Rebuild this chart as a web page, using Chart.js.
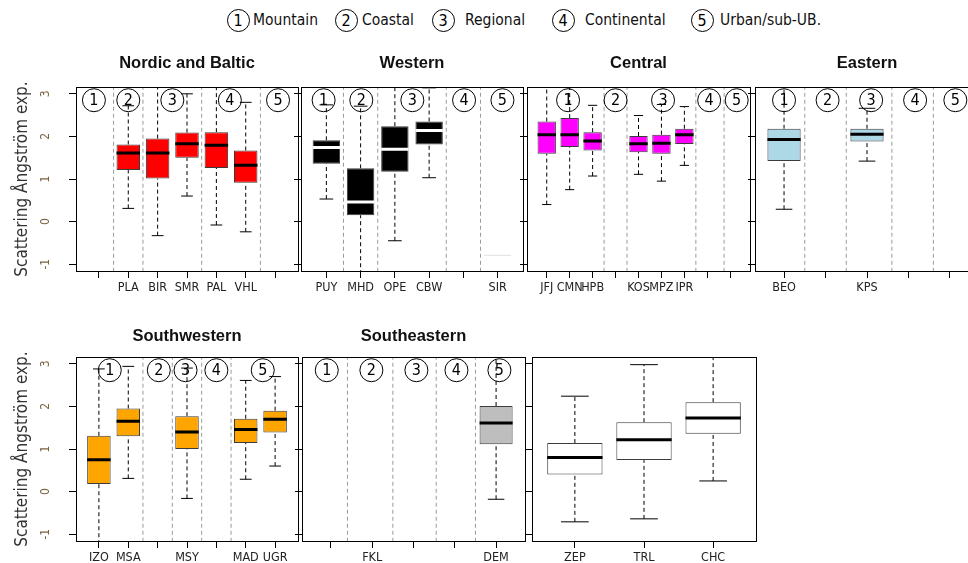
<!DOCTYPE html>
<html>
<head>
<meta charset="utf-8">
<title>Scattering Ångström exponent by region</title>
<script src="https://cdn.jsdelivr.net/npm/chart.js@4.4.1/dist/chart.umd.min.js"></script>
<style>
  body {
    margin: 0; width: 968px; height: 563px; overflow: hidden; background: #fff; position: relative;
    font-family: 'Liberation Sans Narrow', 'Arial Narrow', 'DejaVu Sans Condensed', sans-serif;
  }
  canvas { position: absolute; }
  .num {
    position: absolute; width: 21px; height: 21px; border: 1px solid #000; border-radius: 50%;
    font-size: 16px; line-height: 21px; text-align: center; color: #000;
  }
  .lab { position: absolute; font-size: 15.5px; line-height: 20px; color: #111; white-space: nowrap; }
</style>
</head>
<body>
<div id="legend"></div>
<script>
// station types shown as circled numbers
const typeNames = ['Mountain', 'Coastal', 'Regional', 'Continental', 'Urban/sub-UB.'];
const yTicks = [-1, 0, 1, 2, 3];

// every stats row: [lower whisker, Q1, median, Q3, upper whisker]; null = no box
const nordicSites = ['', 'PLA', 'BIR', 'SMR', 'PAL', 'VHL', ''];
const nordicStats = [null, [0.31, 1.21, 1.61, 1.81, 2.72], [-0.33, 1.01, 1.61, 1.95, 3.4],
  [0.60, 1.50, 1.83, 2.09, 3.0], [-0.08, 1.26, 1.79, 2.10, 3.4], [-0.24, 0.91, 1.32, 1.67, 2.80], null];
const nordicSplits = [1.5, 2.5, 4.5, 6.5];
const nordicTypeX = [0.83, 2.0, 3.5, 5.46, 7.1];

const westernSites = ['PUY', 'MHD', 'OPE', 'CBW', '', 'SIR'];
const westernStats = [[0.53, 1.36, 1.74, 1.91, 2.74], [-1.4, 0.15, 0.46, 1.25, 2.71],
  [-0.45, 1.17, 1.70, 2.24, 3.4], [1.03, 1.81, 2.14, 2.35, 3.14], null, [null, -0.81, null, -0.77, null]];
const westernSplits = [1.5, 2.5, 4.5, 5.5];
const westernTypeX = [0.92, 2.02, 3.51, 5.02, 6.14];

const centralSites = ['JFJ', 'CMN', 'HPB', '', 'KOS', 'MPZ', 'IPR', '', ''];
const centralStats = [[0.40, 1.59, 2.04, 2.35, 3.4], [0.75, 1.75, 2.04, 2.43, 3.4], [1.07, 1.67, 1.89, 2.10, 2.73],
  null, [1.11, 1.63, 1.83, 2.01, 2.49], [0.95, 1.59, 1.84, 2.04, 2.75], [1.32, 1.82, 2.04, 2.18, 2.70], null, null];
const centralSplits = [3.5, 4.5, 7.5, 8.73];
const centralTypeX = [1.93, 4.0, 6.07, 8.08, 9.28];

const easternSites = ['BEO', '', 'KPS', '', ''];
const easternStats = [[0.29, 1.42, 1.93, 2.18, 3.4], null, [1.42, 1.88, 2.05, 2.18, 2.66], null, null];
const easternSplits = [1.5, 2.5, 3.6, 4.6];
const easternTypeX = [1.0, 2.05, 3.1, 4.16, 5.13];

const swSites = ['IZO', 'MSA', '', 'MSY', '', 'MAD', 'UGR'];
const swStats = [[-1.4, 0.18, 0.75, 1.31, 2.88], [0.31, 1.30, 1.65, 1.95, 2.94], null,
  [-0.16, 1.00, 1.40, 1.77, 2.90], null, [0.29, 1.14, 1.46, 1.71, 2.61], [0.60, 1.39, 1.70, 1.90, 2.70]];
const swSplits = [2.5, 3.5, 4.5, 5.5];
const swTypeX = [1.37, 3.04, 3.95, 5.0, 6.58];

const seSites = ['', 'FKL', '', '', 'DEM'];
const seStats = [null, null, null, null, [-0.18, 1.11, 1.61, 2.01, 3.4]];
const seSplits = [1.4, 2.5, 3.55, 4.5];
const seTypeX = [0.9, 1.98, 3.07, 4.04, 5.08];

const refSites = ['ZEP', 'TRL', 'CHC'];
const refStats = [[-0.71, 0.40, 0.80, 1.14, 2.24], [-0.64, 0.74, 1.22, 1.63, 2.98], [0.25, 1.36, 1.73, 2.10, 3.4]];

const NARROW = "'Liberation Sans Narrow', 'Arial Narrow', 'DejaVu Sans Condensed', sans-serif";

// plot box of each panel on the page: [left, right, top, bottom]
const panels = [
  { title: 'Nordic and Baltic', sites: nordicSites, stats: nordicStats, splits: nordicSplits, typeX: nordicTypeX,
    fill: '#ff0000', median: '#000', box: [76, 298, 87, 271], axisLabels: true, titleGap: 24 },
  { title: 'Western', sites: westernSites, stats: westernStats, splits: westernSplits, typeX: westernTypeX,
    fill: '#000000', median: '#fff', siteFill: { 5: '#e6e6e6' }, box: [301, 523, 87, 271], titleGap: 24 },
  { title: 'Central', sites: centralSites, stats: centralStats, splits: centralSplits, typeX: centralTypeX,
    fill: '#ff00ff', median: '#000', box: [527, 750, 87, 271], titleGap: 24 },
  { title: 'Eastern', sites: easternSites, stats: easternStats, splits: easternSplits, typeX: easternTypeX,
    fill: '#add8e6', median: '#000', box: [755, 979, 87, 271], titleGap: 24 },
  { title: 'Southwestern', sites: swSites, stats: swStats, splits: swSplits, typeX: swTypeX,
    fill: '#ffa500', median: '#000', box: [76, 298, 357, 541], axisLabels: true, titleGap: 21 },
  { title: 'Southeastern', sites: seSites, stats: seStats, splits: seSplits, typeX: seTypeX,
    fill: '#bebebe', median: '#000', box: [302, 525, 357, 541], titleGap: 21 },
  { title: '', sites: refSites, stats: refStats, splits: [], typeX: [],
    fill: '#ffffff', median: '#000', box: [532, 756, 357, 541], titleGap: 21 }
];

// frame, panel title and circled station-type numbers
const panelDecor = {
  id: 'panelDecor',
  afterDatasetsDraw(chart, args, opts) {
    const { ctx, chartArea: a, scales: { x, y } } = chart;
    ctx.save();
    ctx.strokeStyle = '#000';
    ctx.fillStyle = '#000';
    ctx.lineWidth = 1;
    ctx.textAlign = 'center';
    ctx.textBaseline = 'middle';
    ctx.font = '16px ' + NARROW;
    opts.typeX.forEach((v, i) => {
      const cx = x.getPixelForValue(v), cy = y.getPixelForValue(2.85);
      ctx.beginPath();
      ctx.arc(cx, cy, 11.5, 0, Math.PI * 2);
      ctx.stroke();
      ctx.fillText(String(i + 1), cx, cy + 1);
    });
    ctx.strokeRect(Math.round(a.left) + 0.5, Math.round(a.top) + 0.5, Math.round(a.width), Math.round(a.height));
    if (opts.title) {
      ctx.font = 'bold 16.5px ' + "'Liberation Sans', Arial, sans-serif";
      ctx.fillStyle = '#111';
      ctx.fillText(opts.title, (a.left + a.right) / 2, a.top - opts.gap);
    }
    ctx.restore();
  }
};

function makePanel(p) {
  const [L, R, T, B] = p.box;
  const padL = 76, padT = 40, padR = 4, padB = 30;
  const cv = document.createElement('canvas');
  cv.width = R - L + padL + padR;
  cv.height = B - T + padT + padB;
  cv.style.left = (L - padL) + 'px';
  cv.style.top = (T - padT) + 'px';
  document.body.appendChild(cv);

  const n = p.sites.length;
  const boxes = [], medians = [], whiskers = [], caps = [], splits = [];
  p.stats.forEach((s, i) => {
    if (!s) return;
    const x = i + 1;
    const [lo, q1, med, q3, hi] = s;
    boxes.push({ x: x, y: [q1, q3] });
    if (med != null) medians.push({ x: x - 0.4, y: med }, { x: x + 0.4, y: med }, { x: x, y: null });
    if (hi != null) {
      whiskers.push({ x: x, y: q3 }, { x: x, y: hi }, { x: x, y: null });
      caps.push({ x: x - 0.2, y: hi }, { x: x + 0.2, y: hi }, { x: x, y: null });
    }
    if (lo != null) {
      whiskers.push({ x: x, y: lo }, { x: x, y: q1 }, { x: x, y: null });
      caps.push({ x: x - 0.2, y: lo }, { x: x + 0.2, y: lo }, { x: x, y: null });
    }
  });
  p.splits.forEach(v => splits.push({ x: v, y: -2 }, { x: v, y: 4 }, { x: v, y: null }));

  const lineSet = (data, color, width, dash, order) => ({
    type: 'line', data: data, borderColor: color, borderWidth: width, borderDash: dash,
    borderCapStyle: 'butt', pointRadius: 0, fill: false, spanGaps: false, tension: 0, order: order
  });
  const siteColor = (c) => (p.siteFill && p.siteFill[c.raw.x - 1]) || p.fill;

  new Chart(cv.getContext('2d'), {
    type: 'bar',
    data: {
      datasets: [
        lineSet(medians, p.median, 3, [], 0),
        lineSet(caps, '#000', 1, [], 1),
        {
          type: 'bar', data: boxes, order: 2,
          backgroundColor: siteColor,
          borderColor: c => (p.siteFill && p.siteFill[c.raw.x - 1]) ? siteColor(c) : '#3c3c3c',
          borderWidth: 1, borderSkipped: false,
          categoryPercentage: 1, barPercentage: 0.8
        },
        lineSet(whiskers, '#000', 1, [4, 3], 3),
        lineSet(splits, '#9a9a9a', 1, [4, 3], 4)
      ]
    },
    options: {
      responsive: false,
      animation: false,
      devicePixelRatio: 1,
      layout: { padding: { top: padT, right: padR, left: 0, bottom: 0 } },
      plugins: {
        legend: { display: false },
        tooltip: { enabled: false },
        panelDecor: { title: p.title, gap: p.titleGap, typeX: p.typeX }
      },
      scales: {
        x: {
          type: 'linear', offset: false,
          min: 0.5 - 0.04 * n, max: n + 0.5 + 0.04 * n,
          afterBuildTicks: s => { s.ticks = p.sites.map((_, i) => ({ value: i + 1 })); },
          afterFit: s => { s.height = padB; },
          ticks: {
            autoSkip: false, maxRotation: 0, padding: 2, color: '#222',
            font: { family: NARROW, size: 12.5 },
            callback: (v, i) => p.sites[i]
          },
          grid: { drawOnChartArea: false, drawTicks: true, tickLength: 7, color: '#000', offset: false },
          border: { display: false }
        },
        y: {
          type: 'linear', min: -1.16, max: 3.16, beginAtZero: false,
          afterBuildTicks: s => { s.ticks = yTicks.map(v => ({ value: v })); },
          afterFit: s => { s.width = padL; },
          ticks: {
            display: !!p.axisLabels, minRotation: 90, maxRotation: 90, crossAlign: 'center',
            padding: 18, color: '#7d6440', font: { family: NARROW, size: 12 }
          },
          grid: { drawOnChartArea: false, drawTicks: true, tickLength: 7, color: '#000' },
          border: { display: false },
          title: {
            display: !!p.axisLabels, text: 'Scattering Ångström exp.', color: '#333',
            font: { family: NARROW, size: 17 }, padding: { top: 12, bottom: 0 }
          }
        }
      }
    },
    plugins: [panelDecor]
  });
}

panels.forEach(makePanel);

// legend of station types along the top
const legendSpots = [[238, 253], [346, 362], [443, 465], [563, 585], [702, 720]];
const legend = document.getElementById('legend');
typeNames.forEach((name, i) => {
  const [cx, tx] = legendSpots[i];
  const num = document.createElement('div');
  num.className = 'num';
  num.textContent = String(i + 1);
  num.style.left = (cx - 11.5) + 'px';
  num.style.top = '9px';
  legend.appendChild(num);
  const lab = document.createElement('div');
  lab.className = 'lab';
  lab.textContent = name;
  lab.style.left = tx + 'px';
  lab.style.top = '10px';
  legend.appendChild(lab);
});
</script>
</body>
</html>
